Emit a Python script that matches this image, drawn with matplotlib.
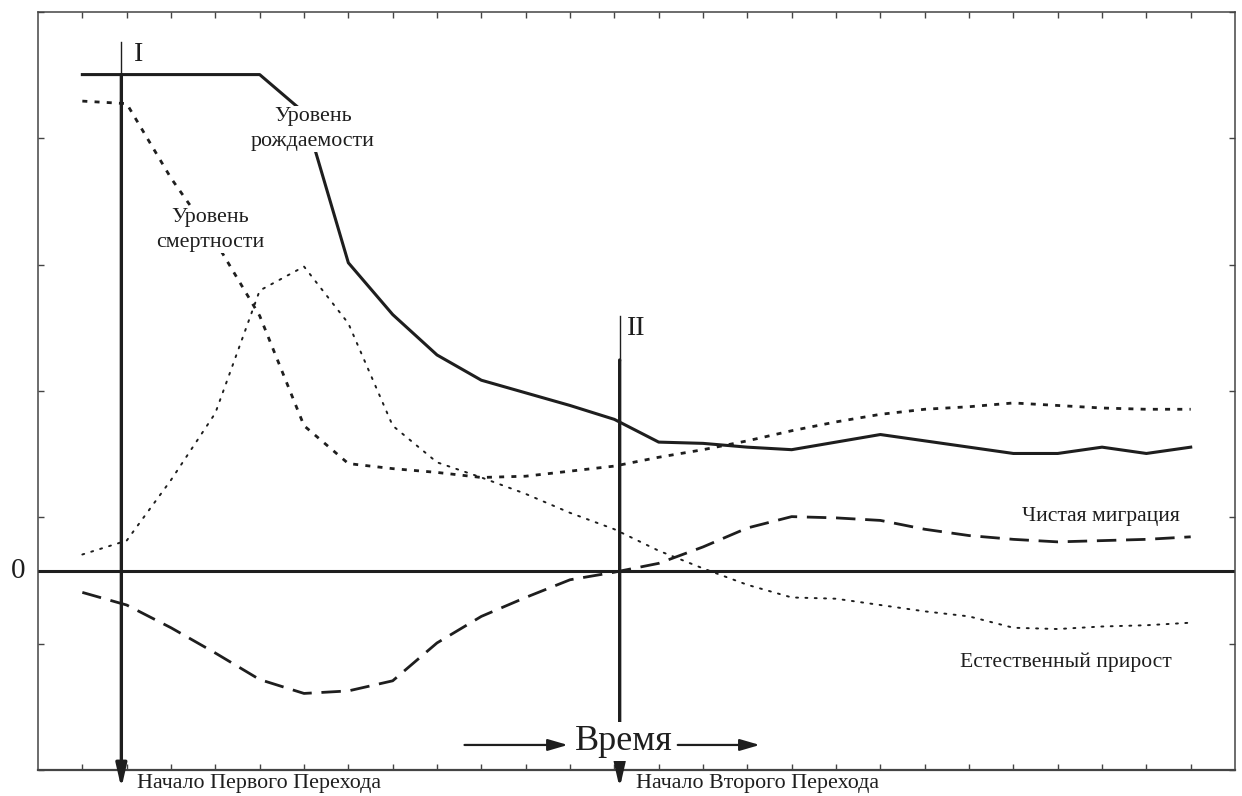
import matplotlib.pyplot as plt
import numpy as np

plt.rcParams['font.family'] = ['Liberation Serif', 'DejaVu Serif']

# stylised demographic transition, values in per mille, one point per time step
periods = np.arange(26)
birth_rate = [39.3, 39.3, 39.3, 39.3, 39.3, 36.3, 24.4, 20.3, 17.1, 15.1, 14.1, 13.1, 12.0,
              10.2, 10.1, 9.8, 9.6, 10.2, 10.8, 10.3, 9.8, 9.3, 9.3, 9.8, 9.3, 9.8]
death_rate = [37.2, 37.0, 31.1, 26.1, 20.2, 11.5, 8.5, 8.1, 7.8, 7.4, 7.5, 7.9, 8.3,
              9.0, 9.6, 10.3, 11.1, 11.8, 12.4, 12.8, 13.0, 13.3, 13.1, 12.9, 12.8, 12.8]
natural_increase = [1.3, 2.4, 7.2, 12.5, 22.2, 24.1, 19.6, 11.5, 8.6, 7.4, 6.1, 4.6, 3.3,
                    1.6, 0.2, -1.1, -2.1, -2.2, -2.7, -3.2, -3.6, -4.5, -4.6, -4.4, -4.3, -4.1]
net_migration = [-1.7, -2.7, -4.5, -6.5, -8.6, -9.7, -9.5, -8.7, -5.7, -3.6, -2.1, -0.7, -0.1,
                 0.6, 1.9, 3.4, 4.3, 4.2, 4.0, 3.3, 2.8, 2.5, 2.3, 2.4, 2.5, 2.7]

transitions = [0.88, 12.12]
transition_names = ["I", "II"]
transition_captions = ["Начало Первого Перехода", "Начало Второго Перехода"]

ink = "#1e1e1e"
y_lo, y_hi = -15.76, 44.26

fig = plt.figure(figsize=(12.42, 7.96), dpi=100)
ax = fig.add_axes([0.0306, 0.0327, 0.9638, 0.9523])
ax.set_xlim(-1, 26)
ax.set_ylim(y_lo, y_hi)

ax.plot(periods, birth_rate, color=ink, lw=2.2, zorder=3)
ax.plot(periods, death_rate, color=ink, lw=2.0, dashes=(1.8, 2.6), zorder=3)
ax.plot(periods, natural_increase, color=ink, lw=1.4, dashes=(1, 3.8),
        dash_capstyle="round", zorder=3)
ax.plot(periods, net_migration, color=ink, lw=2.0, dashes=(7, 3.5), zorder=3)

ax.axhline(0, color=ink, lw=2.2, zorder=2)

# transition markers
tops = [41.9, 20.2]
thick_from = [39.3, 16.7]
for x, top, th, name, cap in zip(transitions, tops, thick_from, transition_names, transition_captions):
    ax.plot([x, x], [top, th], color=ink, lw=1.0, zorder=4)
    ax.annotate("", xy=(x, -17.2), xytext=(x, th),
                arrowprops=dict(arrowstyle="-|>,head_length=1.4,head_width=0.32",
                                color=ink, lw=2.4, shrinkA=0, shrinkB=0),
                annotation_clip=False, zorder=4)
    ax.text(x + 0.38, top - 1.0, name, fontsize=20, ha="center", va="center", color=ink)
    ax.text(x + 0.36, -16.85, cap, fontsize=15.8, ha="left", va="center", color=ink)

# curve labels
box = dict(facecolor="white", edgecolor="none", pad=1)
ax.text(5.2, 35.0, "Уровень\nрождаемости", fontsize=15.8, ha="center", va="center",
        color=ink, bbox=box, zorder=6, linespacing=1.4)
ax.text(2.88, 27.0, "Уровень\nсмертности", fontsize=15.8, ha="center", va="center",
        color=ink, bbox=box, zorder=6, linespacing=1.4)
ax.text(22.97, 4.3, "Чистая миграция", fontsize=15.6, ha="center", va="center", color=ink)
ax.text(22.19, -7.2, "Естественный прирост", fontsize=15.6, ha="center", va="center", color=ink)

# time axis caption
ax.text(12.21, -13.5, "Время", fontsize=26, ha="center", va="center", color=ink,
        bbox=dict(facecolor="white", edgecolor="none", pad=2), zorder=6)
for x0, x1 in [(8.62, 10.95), (13.43, 15.28)]:
    ax.annotate("", xy=(x1, -13.78), xytext=(x0, -13.78),
                arrowprops=dict(arrowstyle="-|>,head_length=1.2,head_width=0.35",
                                color=ink, lw=1.6, shrinkA=0, shrinkB=0))

ax.text(-0.0167, 0, "0", transform=ax.get_yaxis_transform(), fontsize=21,
        ha="center", va="center", color=ink)

ax.set_xticks(periods)
ax.set_yticks(y_lo + 10 * np.arange(7))
ax.tick_params(direction="in", length=4, width=1, top=True, right=True,
               labelbottom=False, labelleft=False, colors="#444")
for side, sp in ax.spines.items():
    sp.set_color("#444")
    sp.set_linewidth(1.6 if side == "bottom" else 1.1)

fig.savefig("out.png", dpi=100)
